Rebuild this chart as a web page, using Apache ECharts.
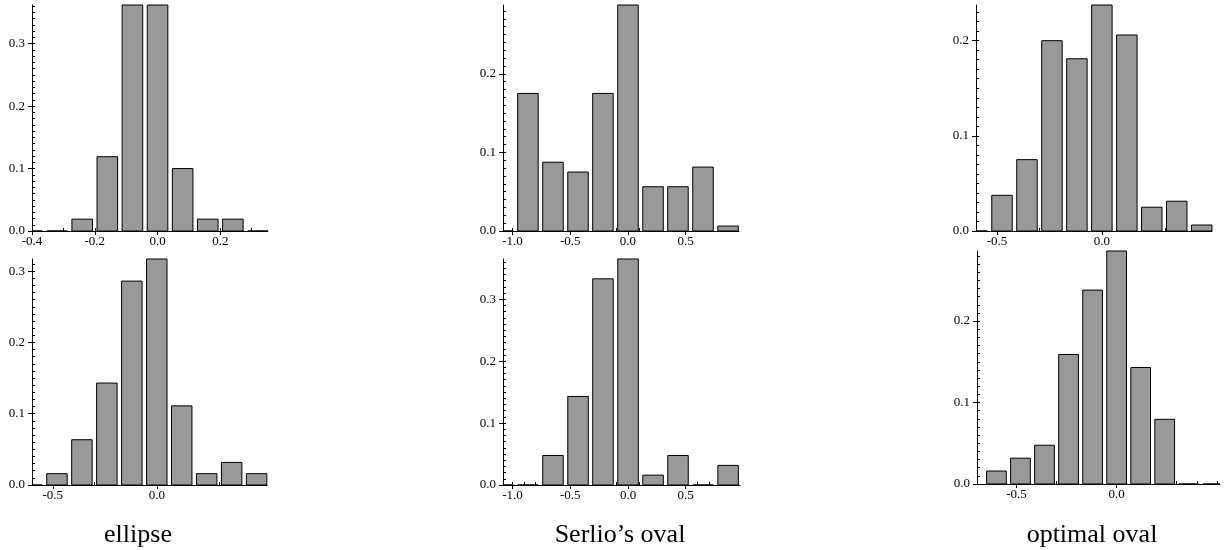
<!DOCTYPE html>
<html>
<head>
<meta charset="utf-8">
<title>histograms</title>
<script src="https://cdn.jsdelivr.net/npm/echarts@6/dist/echarts.min.js"></script>
<style>
html, body { margin: 0; padding: 0; background: #fff; }
#main { width: 1225px; height: 550px; }
</style>
</head>
<body>
<div id="main"></div>
<script>
// bin centres + relative frequencies
const ellipseTopX = [-0.40, -0.32, -0.24, -0.16, -0.08, 0.00, 0.08, 0.16, 0.24, 0.32];
const ellipseTopY = [0, 0, 0.019, 0.119, 0.362, 0.362, 0.100, 0.019, 0.019, 0];
const ellipseBotX = [-0.60, -0.48, -0.36, -0.24, -0.12, 0.00, 0.12, 0.24, 0.36, 0.48];
const ellipseBotY = [0, 0.0159, 0.0635, 0.143, 0.286, 0.317, 0.111, 0.0159, 0.0317, 0.0159];
const serlioTopX = [-1.083, -0.867, -0.650, -0.433, -0.217, 0.000, 0.217, 0.433, 0.650, 0.867];
const serlioTopY = [0, 0.175, 0.0875, 0.075, 0.175, 0.2875, 0.0563, 0.0563, 0.0813, 0.0063];
const serlioBotX = [-1.083, -0.867, -0.650, -0.433, -0.217, 0.000, 0.217, 0.433, 0.650, 0.867];
const serlioBotY = [0, 0, 0.0476, 0.143, 0.333, 0.365, 0.0159, 0.0476, 0, 0.0317];
const optimalTopX = [-0.595, -0.476, -0.357, -0.238, -0.119, 0.000, 0.119, 0.238, 0.357, 0.476];
const optimalTopY = [0, 0.0375, 0.075, 0.200, 0.181, 0.2375, 0.206, 0.025, 0.0313, 0.0063];
const optimalBotX = [-0.60, -0.48, -0.36, -0.24, -0.12, 0.00, 0.12, 0.24, 0.36, 0.48];
const optimalBotY = [0.0159, 0.0317, 0.0476, 0.159, 0.238, 0.286, 0.143, 0.0794, 0, 0];

// tick labels
const xTicksEllipseTop = [-0.4, -0.2, 0.0, 0.2];
const xTicksHalf = [-0.5, 0.0];
const xTicksSerlio = [-1.0, -0.5, 0.0, 0.5];
const yTicks3 = [0.0, 0.1, 0.2, 0.3];
const yTicks2 = [0.0, 0.1, 0.2];

const captions = ['ellipse', 'Serlio\u2019s oval', 'optimal oval'];

const panels = [
  { x: ellipseTopX, y: ellipseTopY, bin: 0.08, xmin: -0.4, xmax: 0.352, xt: xTicksEllipseTop, yt: yTicks3,
    grid: { left: 32, top: 5, width: 236, height: 226 } },
  { x: ellipseBotX, y: ellipseBotY, bin: 0.12, xmin: -0.6, xmax: 0.53, xt: xTicksHalf, yt: yTicks3,
    grid: { left: 32, top: 259, width: 235, height: 226 } },
  { x: serlioTopX, y: serlioTopY, bin: 0.2167, xmin: -1.083, xmax: 0.962, xt: xTicksSerlio, yt: yTicks2,
    grid: { left: 503, top: 5, width: 236, height: 226 } },
  { x: serlioBotX, y: serlioBotY, bin: 0.2167, xmin: -1.083, xmax: 0.97, xt: xTicksSerlio, yt: yTicks3,
    grid: { left: 503, top: 259, width: 237, height: 226 } },
  { x: optimalTopX, y: optimalTopY, bin: 0.119, xmin: -0.6, xmax: 0.525, xt: xTicksHalf, yt: yTicks2,
    grid: { left: 976, top: 5, width: 236, height: 226 } },
  { x: optimalBotX, y: optimalBotY, bin: 0.12, xmin: -0.697, xmax: 0.516, xt: xTicksHalf, yt: yTicks2,
    grid: { left: 977, top: 251, width: 243, height: 233 } }
];

// minor tick positions between min and max
function steps(lo, hi, step) {
  const out = [];
  for (let v = Math.ceil(lo / step - 1e-6) * step; v <= hi + 1e-9; v += step) {
    out.push(Math.round(v * 1000) / 1000);
  }
  return out;
}

const labelFont = { fontFamily: 'Liberation Serif', fontSize: 13, color: '#000' };
const lineBlack = { color: '#000', width: 1 };

const grids = [], xAxes = [], yAxes = [], series = [];
panels.forEach(function (p, i) {
  const ymax = Math.max.apply(null, p.y);
  grids.push(p.grid);
  // main axes: line, outward ticks, labels
  xAxes.push({
    type: 'value', gridIndex: i, min: p.xmin, max: p.xmax,
    splitLine: { show: false },
    axisLine: { lineStyle: lineBlack, onZero: false },
    axisTick: { customValues: p.xt, length: 4, lineStyle: lineBlack },
    axisLabel: Object.assign({ customValues: p.xt, margin: 4, formatter: v => v.toFixed(1) }, labelFont)
  });
  // overlay axes: minor ticks pointing inwards
  xAxes.push({
    type: 'value', gridIndex: i, min: p.xmin, max: p.xmax, position: 'bottom',
    splitLine: { show: false }, axisLine: { show: false, onZero: false }, axisLabel: { show: false },
    axisTick: { customValues: steps(p.xmin, p.xmax, 0.1), inside: true, length: 3, lineStyle: lineBlack }
  });
  yAxes.push({
    type: 'value', gridIndex: i, min: 0, max: ymax,
    splitLine: { show: false },
    axisLine: { show: true, lineStyle: lineBlack, onZero: false },
    axisTick: { show: true, customValues: p.yt, length: 4, lineStyle: lineBlack },
    axisLabel: Object.assign({ customValues: p.yt, margin: 7, formatter: v => v.toFixed(1) }, labelFont)
  });
  yAxes.push({
    type: 'value', gridIndex: i, min: 0, max: ymax, position: 'left',
    splitLine: { show: false }, axisLine: { show: false, onZero: false }, axisLabel: { show: false },
    axisTick: { show: true, customValues: steps(0, ymax, 0.01), inside: true, length: 3, lineStyle: lineBlack }
  });

  const half = p.bin * 0.41;
  series.push({
    type: 'custom',
    xAxisIndex: 2 * i,
    yAxisIndex: 2 * i,
    data: p.x.map((c, k) => [c, p.y[k]]),
    encode: { x: 0, y: 1 },
    renderItem: function (params, api) {
      const c = api.value(0), h = api.value(1);
      const a = api.coord([c - half, h]);
      const b = api.coord([c + half, 0]);
      const r = echarts.graphic.clipRectByRect(
        { x: a[0], y: a[1], width: b[0] - a[0], height: b[1] - a[1] },
        params.coordSys
      );
      if (!r) return;
      return {
        type: 'rect',
        shape: r,
        style: { fill: '#999999', stroke: '#000', lineWidth: 1 }
      };
    },
    silent: true
  });
});

const captionX = [138, 620, 1092];

const myChart = echarts.init(document.getElementById('main'));
myChart.setOption({
  backgroundColor: '#fff',
  animation: false,
  grid: grids,
  xAxis: xAxes,
  yAxis: yAxes,
  series: series,
  graphic: captions.map((t, i) => ({
    type: 'text',
    x: captionX[i],
    y: 535,
    style: {
      text: t,
      fill: '#000',
      font: '26px "Liberation Serif"',
      textAlign: 'center',
      textVerticalAlign: 'middle'
    }
  }))
});
</script>
</body>
</html>
